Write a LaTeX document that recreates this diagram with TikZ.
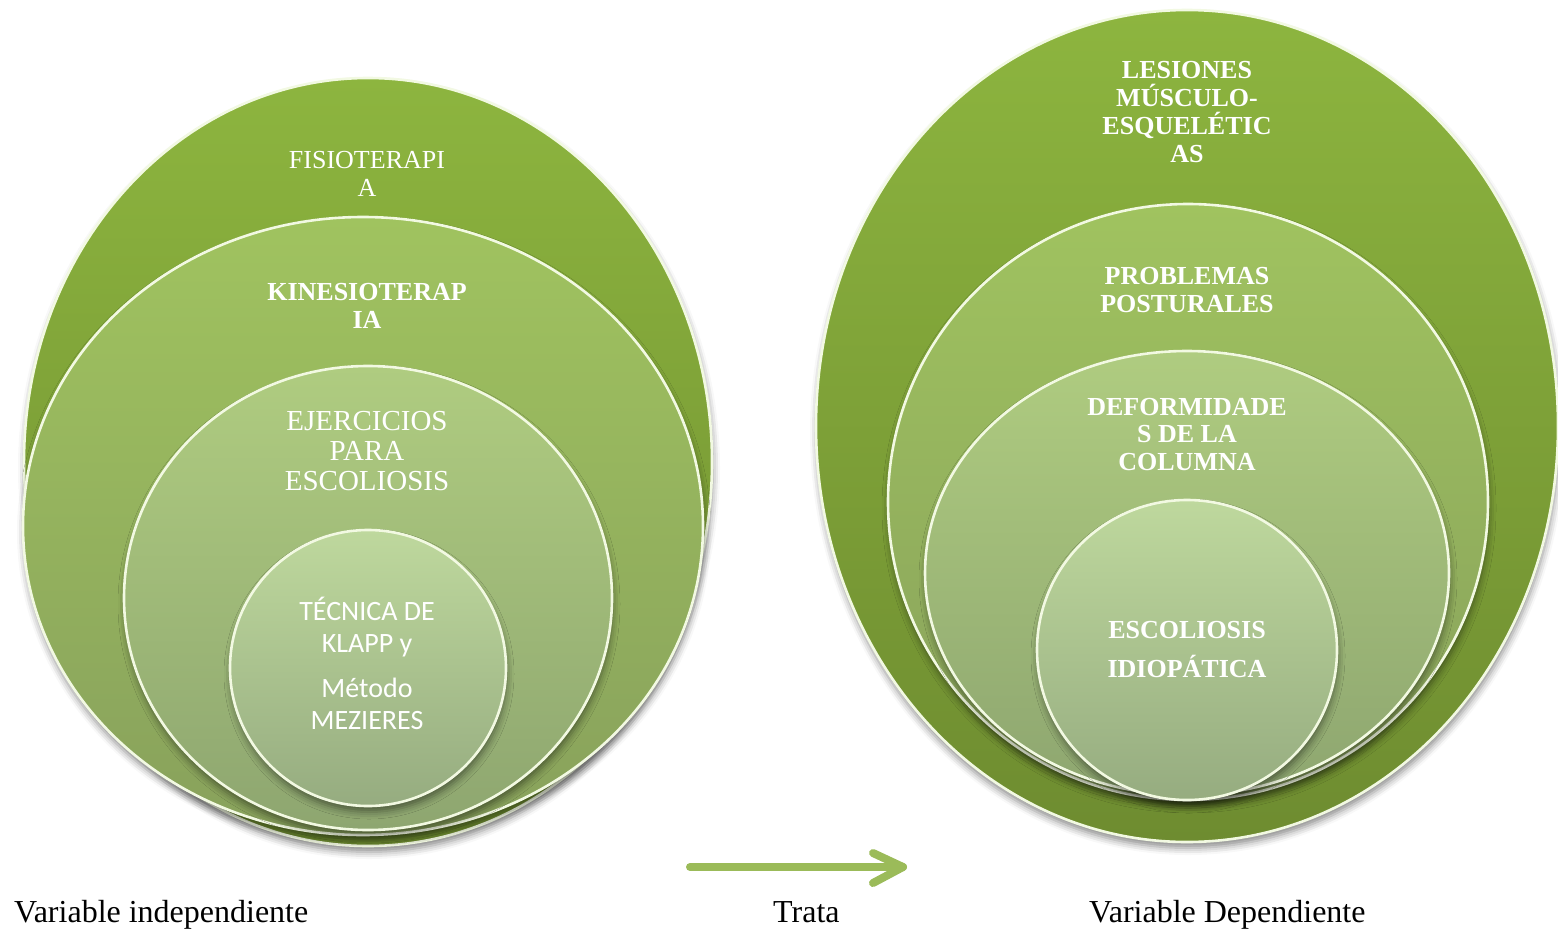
\documentclass[tikz,border=0pt]{standalone}
\usepackage{fontspec}
\setmainfont{Liberation Serif}
\newfontfamily\calibri{Carlito}
\usetikzlibrary{calc,shadows.blur}

% ring colours, light top to dark bottom
\definecolor{ringAtop}{HTML}{8DB53F}
\definecolor{ringAbot}{HTML}{6E8C30}
\definecolor{ringBtop}{HTML}{A0C35F}
\definecolor{ringBbot}{HTML}{88A15C}
\definecolor{ringCtop}{HTML}{AFCC80}
\definecolor{ringCbot}{HTML}{8EA670}
\definecolor{ringDtop}{HTML}{BED89D}
\definecolor{ringDbot}{HTML}{96AC80}
\definecolor{rim}{HTML}{F2F9E2}
\definecolor{arrowgreen}{HTML}{9BBB59}

\tikzset{
  disc/.style={draw=rim, line width=2.6pt,
    blur shadow={shadow xshift=1pt, shadow yshift=-6pt,
                 shadow blur radius=7pt, shadow opacity=45}},
  discA/.style={disc, top color=ringAtop, bottom color=ringAbot},
  discB/.style={disc, top color=ringBtop, bottom color=ringBbot},
  discC/.style={disc, top color=ringCtop, bottom color=ringCbot},
  discD/.style={disc, top color=ringDtop, bottom color=ringDbot},
  lbl/.style={text=white, align=center, inner sep=0pt, anchor=south},
  serifreg/.style={font=\fontsize{26}{28}\selectfont},
  serifbold/.style={font=\fontsize{26}{28}\selectfont\bfseries},
  caption/.style={text=black, inner sep=0pt, anchor=base west,
                  font=\fontsize{32}{36}\selectfont},
  arrowline/.style={draw=arrowgreen, line width=8pt, line cap=round, line join=round}
}

\begin{document}
\begin{tikzpicture}[x=1pt,y=-1pt]
\useasboundingbox (0,0) rectangle (1558,932);

% independent variable: nested rings
\path[discA] (368,462) ellipse [x radius=344pt, y radius=384pt];
\path[discB] (363,526) ellipse [x radius=340pt, y radius=309pt];
\path[discC] (368,598) ellipse [x radius=244pt, y radius=232pt];
\path[discD] (368,668) ellipse [x radius=138pt, y radius=138pt];

\node[lbl, serifreg] (fisio) at (367,196.5) {FISIOTERAPI\\A};
\node[lbl, serifbold] (kine) at (367,328.5) {KINESIOTERAP\\IA};
\node[lbl, font=\fontsize{29}{30}\selectfont] (ejer) at (367,490.5)
  {EJERCICIOS\\PARA\\ESCOLIOSIS};
\node[lbl, font=\calibri\fontsize{28}{32}\selectfont] (klapp) at (367,730)
  {TÉCNICA DE\\KLAPP y\\[13pt]Método\\MEZIERES};

% dependent variable: nested rings
\path[discA] (1187,426) ellipse [x radius=371pt, y radius=416pt];
\path[discB] (1188,502) ellipse [x radius=300pt, y radius=298pt];
\path[discC] (1187,573) ellipse [x radius=262pt, y radius=222pt];
\path[discD] (1187,650) ellipse [x radius=150pt, y radius=150pt];

\node[lbl, serifbold] (lesion) at (1187,162.5)
  {LESIONES\\MÚSCULO-\\ESQUELÉTIC\\AS};
\node[lbl, serifbold] (postur) at (1187,312.5) {PROBLEMAS\\POSTURALES};
\node[lbl, font=\fontsize{26}{27.5}\selectfont\bfseries] (deform) at (1187,470.5)
  {DEFORMIDADE\\S DE LA\\COLUMNA};
\node[lbl, font=\fontsize{26}{39}\selectfont\bfseries] (idiop) at (1187,677.5)
  {ESCOLIOSIS\\IDIOPÁTICA};

% arrow between the two groups
\coordinate (arrS) at (690,867);
\coordinate (arrE) at (903,867);
\draw[arrowline] (arrS) -- (arrE);
\draw[arrowline] ($(arrE)+(-30,-14)$) -- (arrE) -- ($(arrE)+(-30,16)$);

% captions
\node[caption] (indep) at (14,922) {Variable independiente};
\node[caption] (trata) at (773,922) {Trata};
\node[caption] (dep) at (1089,922) {Variable Dependiente};
\end{tikzpicture}
\end{document}
